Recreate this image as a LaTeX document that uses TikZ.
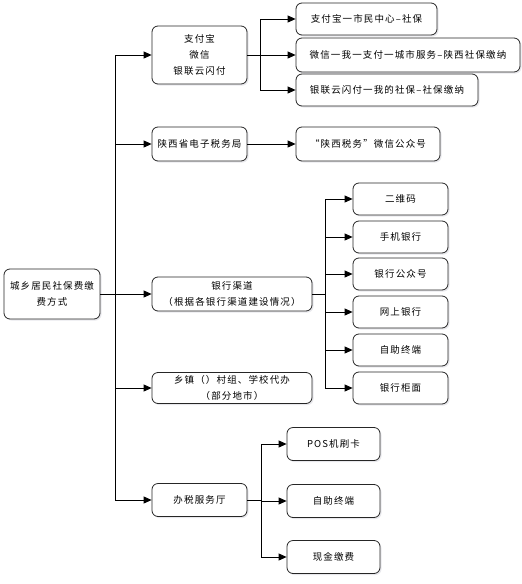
\documentclass[tikz,border=0pt]{standalone}
\usepackage{fontspec}
\setmainfont{Noto Sans CJK SC}[LetterSpace=12]
\usetikzlibrary{arrows.meta,shadows}
\begin{document}
\begin{tikzpicture}[x=1pt,y=-1pt,
  box/.style={draw=black!85,line width=0.8pt,rounded corners=6pt,fill=white,
    align=center,inner sep=1pt,font=\fontsize{9.5}{16}\selectfont,
    drop shadow={shadow xshift=1.5pt,shadow yshift=-1.5pt,fill=blue!20!black!15,opacity=0.6}},
  ln/.style={line width=0.8pt,draw=black},
  arr/.style={ln,-{Triangle[length=8pt,width=7pt]}}]
\useasboundingbox (0,0) rectangle (522,584);
% root
\node[box,minimum width=96pt,minimum height=50pt] (root) at (52,294) {城乡居民社保费缴\\费方式};
% level 1
\node[box,minimum width=95pt,minimum height=58pt] (a1) at (199.5,55) {支付宝\\微信\\银联云闪付};
\node[box,minimum width=95pt,minimum height=34pt] (a2) at (199.5,144) {陕西省电子税务局};
\node[box,minimum width=160pt,minimum height=34pt] (a3) at (232,294) {银行渠道\\（根据各银行渠道建设情况）};
\node[box,minimum width=160pt,minimum height=31pt] (a4) at (232,388) {乡镇（）村组、学校代办\\（部分地市）};
\node[box,minimum width=95pt,minimum height=33pt] (a5) at (199.5,500) {办税服务厅};
% level 2: a1
\node[box,minimum width=141pt,minimum height=32pt] (b1) at (366.5,19) {支付宝一市民中心–社保};
\node[box,minimum width=224pt,minimum height=34pt] (b2) at (408,55) {微信一我一支付一城市服务–陕西社保缴纳};
\node[box,minimum width=182pt,minimum height=32pt] (b3) at (387,90) {银联云闪付一我的社保–社保缴纳};
% a2
\node[box,minimum width=144pt,minimum height=34pt] (c1) at (368,144) {“陕西税务”微信公众号};
% a3
\node[box,minimum width=95pt,minimum height=32pt] (d1) at (400.5,199) {二维码};
\node[box,minimum width=95pt,minimum height=32pt] (d2) at (400.5,237) {手机银行};
\node[box,minimum width=95pt,minimum height=32pt] (d3) at (400.5,274) {银行公众号};
\node[box,minimum width=95pt,minimum height=32pt] (d4) at (400.5,312) {网上银行};
\node[box,minimum width=95pt,minimum height=32pt] (d5) at (400.5,350) {自助终端};
\node[box,minimum width=95pt,minimum height=32pt] (d6) at (400.5,388) {银行柜面};
% a5
\node[box,minimum width=93pt,minimum height=33pt] (e1) at (333.5,444) {POS机刷卡};
\node[box,minimum width=93pt,minimum height=33pt] (e2) at (333.5,501) {自助终端};
\node[box,minimum width=93pt,minimum height=33pt] (e3) at (333.5,557) {现金缴费};
% junction coordinates
\coordinate (t0) at (115,294);
\coordinate (t1) at (260,55);
\coordinate (t3) at (325,294);
\coordinate (t5) at (261,500);
% root trunk
\draw[ln] (root.east) -- (t0);
\draw[ln] (t0 |- a1.west) -- (t0 |- a5.west);
\foreach \n in {a1,a2,a3,a4,a5} \draw[arr] (t0 |- \n.west) -- (\n.west);
% a1 branch
\draw[ln] (a1.east) -- (t1);
\draw[ln] (t1 |- b1.west) -- (t1 |- b3.west);
\foreach \n in {b1,b2,b3} \draw[arr] (t1 |- \n.west) -- (\n.west);
% a2
\draw[arr] (a2.east) -- (c1.west);
% a3 branch
\draw[ln] (a3.east) -- (t3);
\draw[ln] (t3 |- d1.west) -- (t3 |- d6.west);
\foreach \n in {d1,d2,d3,d4,d5,d6} \draw[arr] (t3 |- \n.west) -- (\n.west);
% a5 branch
\draw[ln] (a5.east) -- (t5);
\draw[ln] (t5 |- e1.west) -- (t5 |- e3.west);
\foreach \n in {e1,e2,e3} \draw[arr] (t5 |- \n.west) -- (\n.west);
\end{tikzpicture}
\end{document}
